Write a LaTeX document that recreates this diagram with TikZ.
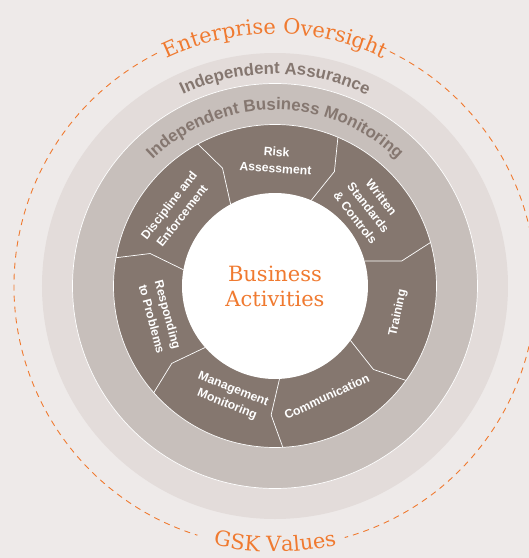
\documentclass[tikz,border=0pt]{standalone}
\usepackage{fontspec}
\usetikzlibrary{decorations.text}
\newfontfamily\slabfont{DejaVu Serif}
\newfontfamily\labelfont{Liberation Sans}
\definecolor{bgcol}{HTML}{EEEAE9}
\definecolor{assurance}{HTML}{E3DCDA}
\definecolor{monitor}{HTML}{C7BFBB}
\definecolor{pillar}{HTML}{85776F}
\definecolor{ringtext}{HTML}{857770}
\definecolor{gskorange}{HTML}{F07A30}
\newcommand{\ringfont}{\labelfont\bfseries\fontsize{16.8}{20}\selectfont}
\newcommand{\orangefont}{\slabfont\fontsize{21}{25}\selectfont}

\begin{document}
\begin{tikzpicture}[x=1pt, y=1pt,
    seglabel/.style={text=white, align=center, inner sep=0pt,
        font=\labelfont\bfseries\fontsize{12.2}{16.5}\selectfont},
    border/.style={white, line width=0.7pt},
    oversight/.style={gskorange, line width=0.9pt, dash pattern=on 6pt off 5pt}]
    \fill[bgcol] (-275,-272) rectangle (254,286);
    \useasboundingbox (-275,-272) rectangle (254,286);

    % rings
    \fill[assurance] (0,0) circle (233);
    \draw[white, fill=monitor, line width=0.7pt] (0,0) circle (202.5);
    \draw[white, fill=pillar, line width=0.7pt] (0,0) circle (161.5);
    \node[circle, fill=white, inner sep=0pt, minimum size=186pt] (core) at (0,0) {};
    \node[text=gskorange, align=center, font=\orangefont] (business) at (core.center) {Business\\Activities};

    % segment borders
    \foreach \k in {0,...,6} {
        \pgfmathsetmacro{\b}{118.5-51.43*\k}
        \draw[border] (\b:93) -- (\b-4.5:129) -- (\b:161.5);
    }

    % segment labels
    \node[seglabel, rotate=-4] (risk) at (89.5:126) {Risk\\Assessment};
    \node[seglabel, rotate=-52] (standards) at (40:122) {Written\\Standards\\\& Controls};
    \node[seglabel, rotate=78] (training) at (-12.4:126) {Training};
    \node[seglabel, rotate=25] (communication) at (-64.9:122) {Communication};
    \node[seglabel, rotate=-22] (management) at (-112:120) {Management\\Monitoring};
    \node[seglabel, rotate=-75] (responding) at (-165:119) {Responding\\to Problems};
    \node[seglabel, rotate=52] (discipline) at (142.8:125) {Discipline and\\Enforcement};

    % ring labels
    \path[decorate, decoration={text along path, text align=center, text color=ringtext,
        text={|\ringfont|Independent Assurance}}]
        (150:212) arc[start angle=150, end angle=30, radius=212];
    \path[decorate, decoration={text along path, text align=center, text color=ringtext,
        text={|\ringfont|Independent Business Monitoring}}]
        (160:176) arc[start angle=160, end angle=20, radius=176];

    % values and oversight
    \draw[oversight] (63.9:261) arc[start angle=63.9, end angle=-74.5, radius=261];
    \draw[oversight] (116.9:261) arc[start angle=116.9, end angle=252.7, radius=261];
    \path[decorate, decoration={text along path, text align=center, text color=gskorange,
        text={|\orangefont|Enterprise Oversight}}]
        (150:252) arc[start angle=150, end angle=30, radius=252];
    \path[decorate, decoration={text along path, text align=center, text color=gskorange,
        text={|\orangefont|GSK Values}}]
        (240:266) arc[start angle=240, end angle=300, radius=266];
\end{tikzpicture}
\end{document}
